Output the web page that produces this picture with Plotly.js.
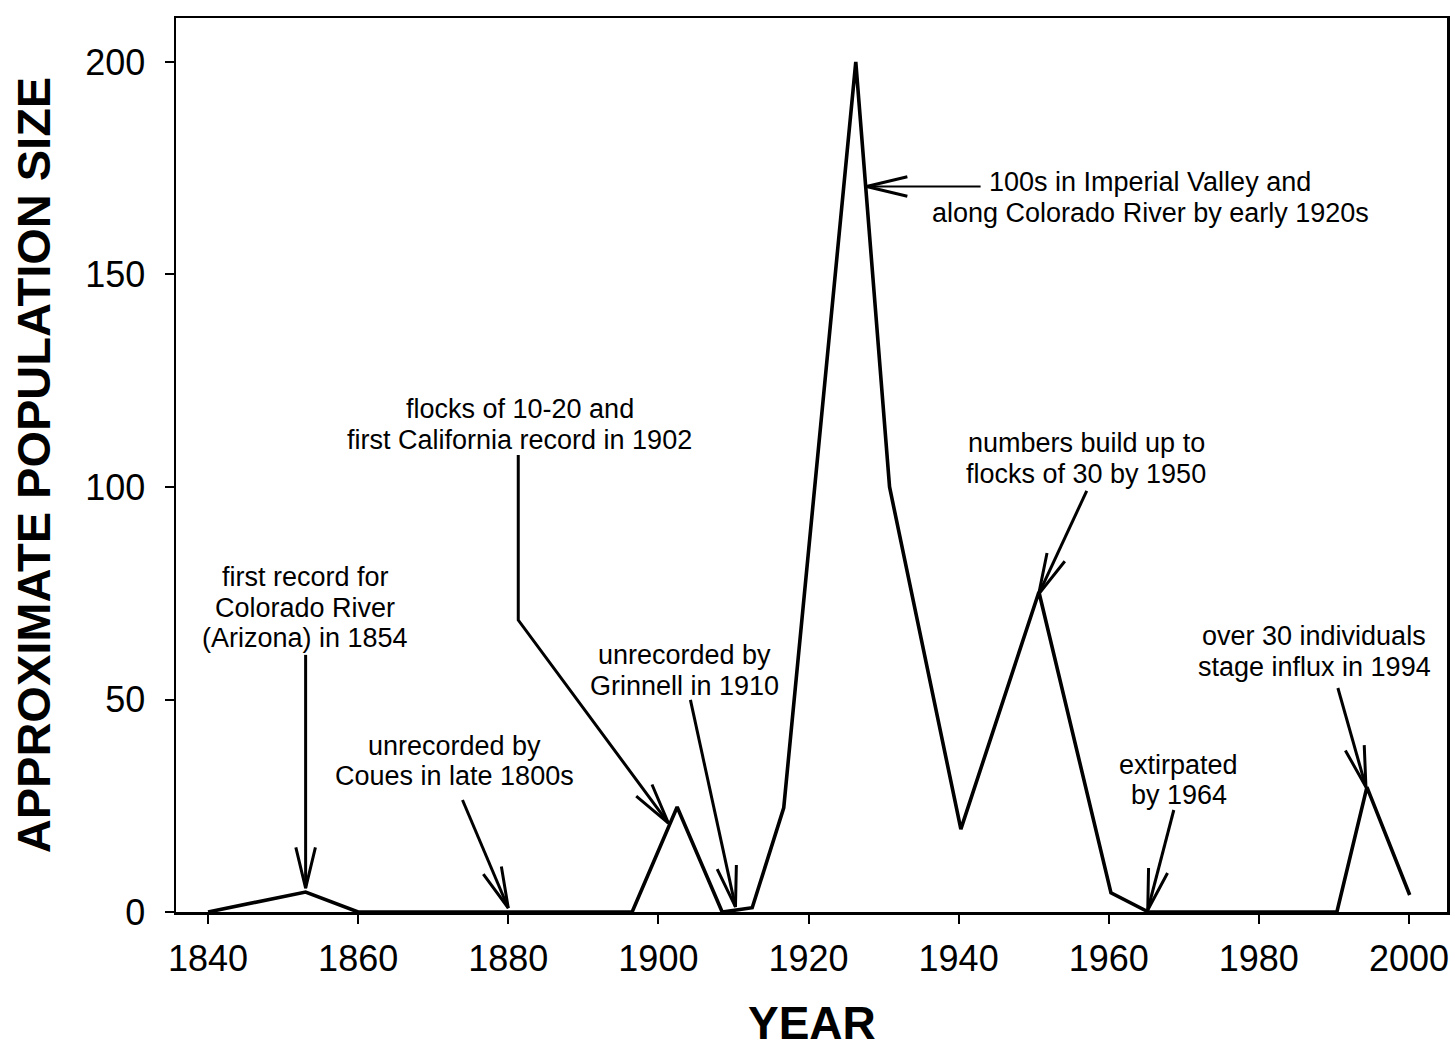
<!DOCTYPE html>
<html>
<head>
<meta charset="utf-8">
<script src="https://cdn.plot.ly/plotly-3.0.1.min.js"></script>
<style>html,body{margin:0;padding:0;background:#fff;}#chart{width:1455px;height:1050px;}</style>
</head>
<body>
<div id="chart"></div>
<script>
// ---- data ----
const years = [1840, 1853, 1860, 1896.5, 1902.5, 1908.5, 1912.5, 1916.7, 1926.3, 1930.8, 1940.3, 1950.7, 1960.3, 1965.3, 1990.4, 1994.4, 2000.1];
const popSize = [0, 4.7, 0, 0, 24.7, 0, 1, 24.5, 200, 100, 19.5, 75.3, 4.5, 0, 0, 29.4, 4];
const xTickVals = [1840, 1860, 1880, 1900, 1920, 1940, 1960, 1980, 2000];
const yTickVals = [0, 50, 100, 150, 200];
const xTitle = 'YEAR';
const yTitle = 'APPROXIMATE POPULATION SIZE';

const noteTexts = [
  ["first record for", "Colorado River", "(Arizona) in 1854"],
  ["unrecorded by", "Coues in late 1800s"],
  ["flocks of 10-20 and", "first California record in 1902"],
  ["unrecorded by", "Grinnell in 1910"],
  ["100s in Imperial Valley and", "along Colorado River by early 1920s"],
  ["numbers build up to", "flocks of 30 by 1950"],
  ["over 30 individuals", "stage influx in 1994"],
  ["extirpated", "by 1964"]
];
const noteX = [1852.93, 1872.8, 1881.5, 1903.5, 1965.5, 1957.0, 1987.4, 1969.33];
const noteY = [78.8, 39.06, 118.35, 60.47, 171.76, 110.35, 64.94, 34.59];
// arrow paths (tail ... tip), data coordinates
const arrowPaths = [
  [[1853, 60.5], [1853, 5.6]],
  [[1873.9, 26.35], [1880, 0.94]],
  [[1881.33, 107.5], [1881.33, 68.7], [1901.33, 20.9]],
  [[1904.27, 49.9], [1910.27, 1.2]],
  [[1942.93, 170.7], [1927.73, 170.7]],
  [[1957.07, 99.1], [1950.67, 74.8]],
  [[1990.53, 52.7], [1994.27, 29.4]],
  [[1968.67, 24], [1965.2, 0.47]]
];

// ---- layout geometry ----
const W = 1455, H = 1050;
const M = {l: 176, r: 8, t: 18, b: 138};
const plotW = W - M.l - M.r, plotH = H - M.t - M.b;
const xr = [1835.73, 2005.07];
const yr = [0, 210.35];
const pxX = plotW / (xr[1] - xr[0]);
const pxY = plotH / (yr[1] - yr[0]);

const FONT = '"Liberation Sans", Arial, Helvetica, sans-serif';

const traces = [{
  x: years, y: popSize, type: 'scatter', mode: 'lines',
  line: {color: '#000', width: 3.6}, hoverinfo: 'skip', showlegend: false, cliponaxis: false
}];

// arrows: shafts + open V heads
const headLen = 42, headAng = 13.5 * Math.PI / 180;
arrowPaths.forEach((p, i) => {
  const xs = p.map(q => q[0]), ys = p.map(q => q[1]);
  const tip = p[p.length - 1], prev = p[p.length - 2];
  let dx = (tip[0] - prev[0]) * pxX, dy = (tip[1] - prev[1]) * pxY;
  const n = Math.hypot(dx, dy); dx /= n; dy /= n;
  const hx = [], hy = [];
  [headAng, -headAng].forEach((a, k) => {
    const rx = dx * Math.cos(a) - dy * Math.sin(a);
    const ry = dx * Math.sin(a) + dy * Math.cos(a);
    hx.push(tip[0] - headLen * rx / pxX);
    hy.push(tip[1] - headLen * ry / pxY);
    if (k === 0) { hx.push(tip[0]); hy.push(tip[1]); }
  });
  const w = (i === 4) ? 2.2 : 3;
  traces.push({x: xs, y: ys, type: 'scatter', mode: 'lines', line: {color: '#000', width: w}, hoverinfo: 'skip', showlegend: false});
  traces.push({x: hx, y: hy, type: 'scatter', mode: 'lines', line: {color: '#000', width: 3}, hoverinfo: 'skip', showlegend: false});
});

const annotations = [];
noteTexts.forEach((lines, i) => {
  lines.forEach((t, j) => {
    annotations.push({
      x: noteX[i], y: noteY[i], xref: 'x', yref: 'y', text: t, showarrow: false,
      xanchor: 'center', yanchor: 'middle', yshift: -30.5 * j,
      font: {family: FONT, size: 27, color: '#000'}
    });
  });
});
// x-axis title placed as a paper annotation (axis title is clamped by the margin)
annotations.push({
  x: 0.5, y: 0, xref: 'paper', yref: 'paper', text: '<b>' + xTitle + '</b>', showarrow: false,
  xanchor: 'center', yanchor: 'top', yshift: -83,
  font: {family: FONT, size: 46, color: '#000'}
});

const layout = {
  width: W, height: H,
  margin: M,
  paper_bgcolor: '#fff', plot_bgcolor: '#fff',
  showlegend: false,
  xaxis: {
    range: xr, tickvals: xTickVals, ticktext: xTickVals.map(String),
    ticks: 'outside', ticklen: 9, tickwidth: 2, tickcolor: '#000',
    showline: true, linecolor: '#000', linewidth: 2.5, mirror: true,
    showgrid: false, zeroline: false, ticklabelstandoff: 4,
    tickfont: {family: FONT, size: 36, color: '#000'}
  },
  yaxis: {
    range: yr, tickvals: yTickVals, ticktext: yTickVals.map(String),
    ticks: 'outside', ticklen: 9, tickwidth: 2, tickcolor: '#000',
    showline: true, linecolor: '#000', linewidth: 2.5, mirror: true,
    showgrid: false, zeroline: false, ticklabelstandoff: 12,
    tickfont: {family: FONT, size: 36, color: '#000'},
    title: {text: yTitle, font: {family: FONT, size: 47, color: '#000', weight: 'bold'}, standoff: 20}
  },
  annotations: annotations
};

Plotly.newPlot('chart', traces, layout, {staticPlot: true, displayModeBar: false});
</script>
</body>
</html>
